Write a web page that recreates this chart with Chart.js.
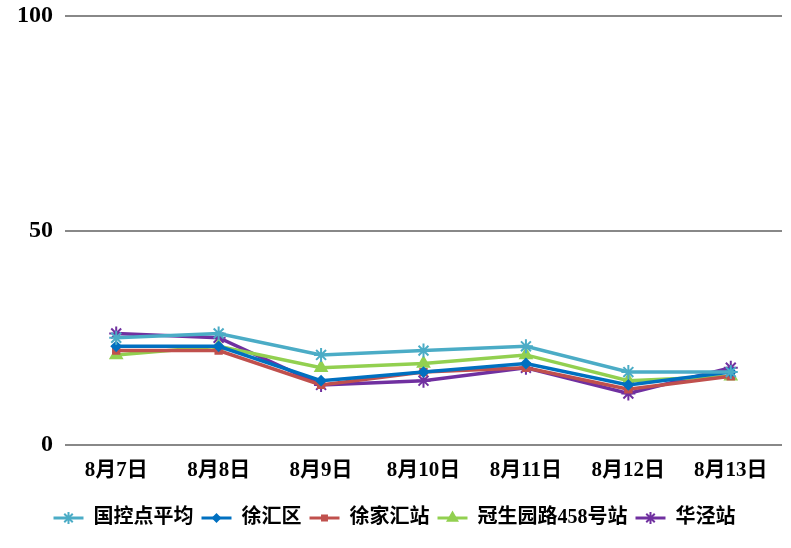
<!DOCTYPE html>
<html>
<head>
<meta charset="utf-8">
<script src="https://cdn.jsdelivr.net/npm/chart.js@4/dist/chart.umd.min.js"></script>
<style>
  html, body { margin: 0; padding: 0; background: #fff; }
  #wrap { width: 791px; height: 548px; position: relative; }
</style>
</head>
<body>
<div id="wrap"><canvas id="c" width="791" height="548"></canvas></div>
<script>
"use strict";

const days      = ["8月7日", "8月8日", "8月9日", "8月10日", "8月11日", "8月12日", "8月13日"];
const yTicks    = [0, 50, 100];

const guokong   = [25, 26, 21, 22, 23, 17, 17];   // 国控点平均
const xuhui     = [23, 23, 15, 17, 19, 14, 17];   // 徐汇区
const xujiahui  = [22, 22, 14, 17, 18, 13, 16];   // 徐家汇站
const guanSheng = [21, 23, 18, 19, 21, 15, 16];   // 冠生园路458号站
const huajing   = [26, 25, 14, 15, 18, 12, 18];   // 华泾站

const FONT = "'Liberation Serif', 'Noto Sans CJK SC', serif";

function series(label, data, color, style, radius) {
  return {
    label, data,
    borderColor: color,
    backgroundColor: color,
    borderWidth: 3.5,
    pointStyle: style,
    pointRadius: radius,
    pointBorderWidth: 2,
    pointBorderColor: color,
    pointBackgroundColor: color,
    tension: 0,
  };
}

/* draw the marker on top of each legend line sample */
const legendMarkers = {
  id: "legendMarkers",
  afterDraw(chart) {
    const lg = chart.legend;
    if (!lg || !lg.legendHitBoxes) return;
    const ctx = chart.ctx;
    lg.legendHitBoxes.forEach((box, i) => {
      const ds = chart.data.datasets[i];
      const bw = lg.options.labels.boxWidth;
      ctx.save();
      ctx.strokeStyle = ds.borderColor;
      ctx.fillStyle = ds.borderColor;
      ctx.lineWidth = 2;
      Chart.helpers.drawPoint(ctx, { pointStyle: ds.pointStyle, radius: ds.pointRadius - 1, borderWidth: 2 },
        box.left + bw / 2, box.top + box.height / 2);
      ctx.restore();
    });
  },
};

new Chart(document.getElementById("c"), {
  type: "line",
  data: {
    labels: days,
    datasets: [
      series("国控点平均", guokong, "#4BACC6", "star", 7),
      series("徐汇区", xuhui, "#0070C0", "rectRot", 4.5),
      series("徐家汇站", xujiahui, "#C0504D", "rect", 4.5),
      series("冠生园路458号站", guanSheng, "#92D050", "triangle", 6.5),
      series("华泾站", huajing, "#7030A0", "star", 7),
    ],
  },
  options: {
    responsive: false,
    animation: false,
    devicePixelRatio: 1,
    layout: { padding: { top: 16, right: 2, left: 0, bottom: 10 } },
    plugins: {
      tooltip: { enabled: false },
      legend: {
        position: "bottom",
        labels: {
          boxWidth: 30,
          boxHeight: 3,
          padding: 8,
          color: "#000",
          font: { family: FONT, size: 20, weight: "bold" },
          generateLabels(chart) {
            return chart.data.datasets.map((ds, i) => ({
              text: ds.label,
              fillStyle: ds.borderColor,
              strokeStyle: ds.borderColor,
              lineWidth: 0,
              datasetIndex: i,
              fontColor: "#000",
            }));
          },
        },
      },
    },
    scales: {
      x: {
        offset: true,
        grid: { display: false, offset: true },
        border: { display: false },
        ticks: {
          color: "#000",
          padding: 5,
          maxRotation: 0,
          autoSkip: false,
          font: { family: FONT, size: 21, weight: "bold" },
        },
        afterFit(s) { s.height = 55; },
      },
      y: {
        min: 0,
        max: 100,
        afterBuildTicks(s) { s.ticks = yTicks.map(v => ({ value: v })); },
        grid: { color: "#888888", lineWidth: 2, drawTicks: false },
        border: { display: false },
        ticks: {
          color: "#000",
          padding: 12,
          font: { family: FONT, size: 24, weight: "bold", lineHeight: 0.6 },
        },
        afterFit(s) { s.width = 65; s.paddingTop = 0; },
      },
    },
  },
  plugins: [legendMarkers],
});
</script>
</body>
</html>
